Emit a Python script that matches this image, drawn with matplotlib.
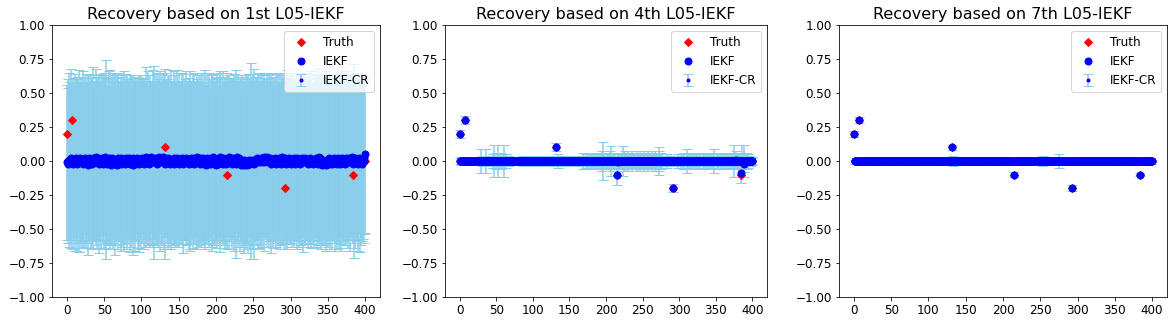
import numpy as np
import matplotlib
matplotlib.use("Agg")
import matplotlib.pyplot as plt
from matplotlib.ticker import MultipleLocator

# positions 0..400
n_pts = 401
titles = ["Recovery based on 1st L05-IEKF",
          "Recovery based on 4th L05-IEKF",
          "Recovery based on 7th L05-IEKF"]

# sparse truth signal
truth_idx = [0, 7, 131, 215, 292, 384]
truth_val = [0.2, 0.3, 0.1, -0.1, -0.2, -0.1]

# 1st IEKF estimate (hundredths) - does not recover the spikes
mean1 = [
    -1, 0, -2, 1, 0, -1, 2, 1, -2, 0, 1, -1, 2, 0, -2, 1, 0, -1, 2, -1,
    0, 1, -2, -1, 2, 0, -1, 1, -3, 0, 2, 1, -1, 0, -2, 2, 1, -1, 0, 3,
    -1, 0, 2, -2, 1, 0, -1, 2, 1, -2, 0, 3, -1, 1, -2, 0, 2, -1, 1, -3,
    0, 2, -1, 1, -2, 0, 1, -3, 2, 0, -1, 1, -2, 2, 0, -1, 1, 0, -2, 2,
    1, -1, 0, 2, -2, 1, 0, -1, 2, -3, 1, 0, -2, 1, 2, -1, 0, -2, 1, 0,
    -1, 2, 0, 1, -2, 1, 3, -1, 0, 2, -2, 1, 0, 3, -1, 2, 0, -1, 1, 2,
    0, -2, 1, 3, -1, 0, 2, 1, -1, 3, 0, 2, -2, 1, 0, -1, 2, 0, -2, 1,
    1, -1, 0, 2, -2, 0, 1, -1, 2, 0, -2, 1, 0, -1, 2, 1, -2, 0, 1, -1,
    2, 0, -1, 1, -2, 0, 2, -1, 1, 0, -2, 2, 1, -1, 0, 3, -1, 0, 2, -2,
    1, 0, -1, 2, -2, 1, 0, -3, 2, -1, 0, 1, -2, 2, 0, -1, 3, -2, 1, 0,
    -3, 1, 0, -2, 2, 3, -1, 0, 1, -2, 2, 0, -1, 1, -2, 0, 2, 3, -1, 0,
    1, -2, 0, 2, -1, 1, 0, -2, 3, 0, -1, 2, -2, 1, -3, 0, -2, -3, 1, -2,
    -1, -3, 0, -2, 1, -1, -2, 0, 1, -1, 0, -2, 1, 0, -1, 2, 0, -1, 1, 0,
    2, -1, 0, 1, 3, -1, 0, 2, 1, 3, -1, 0, 2, 1, -2, 0, 1, -1, 0, 2,
    1, -2, 0, 1, -1, 2, 0, -2, 1, 3, 0, -1, 2, 0, -2, 1, 0, -1, 2, 1,
    -2, 0, 1, -1, 2, 0, -2, 1, 0, 2, -1, 1, 0, -2, 1, 2, 0, -1, 1, 0,
    2, -1, 0, 1, -2, 0, 2, -1, 1, 0, -2, 1, 0, -1, 2, 0, 1, -2, 3, 0,
    2, -1, -3, 0, 1, -2, -1, 0, -3, 1, 0, -2, 2, -1, 0, 1, -2, 0, 2, -1,
    1, 0, -2, 2, -1, 0, 1, -2, 0, 2, -1, 1, 0, -2, 2, 0, 1, -1, 0, 2,
    -1, 0, 3, 1, -2, 0, 2, -1, 0, 1, -2, 0, 2, -1, 0, 1, -2, 1, 0, 2,
    5]

err1 = [
    57, 60, 56, 64, 58, 59, 66, 57, 63, 58, 56, 65, 58, 60, 64, 57, 67, 59, 56, 63,
    58, 65, 57, 62, 56, 64, 59, 57, 66, 58, 62, 56, 64, 57, 63, 67, 58, 56, 59, 65,
    63, 57, 60, 66, 56, 59, 64, 57, 62, 56, 65, 58, 63, 73, 57, 60, 64, 56, 66, 58,
    62, 56, 64, 58, 67, 57, 63, 56, 59, 65, 57, 58, 64, 56, 63, 60, 57, 66, 58, 62,
    56, 64, 60, 57, 65, 58, 63, 56, 59, 66, 57, 58, 64, 60, 56, 63, 57, 65, 58, 60,
    64, 56, 60, 57, 63, 58, 66, 56, 59, 64, 57, 58, 63, 56, 60, 65, 57, 71, 58, 62,
    56, 60, 64, 57, 58, 66, 56, 63, 59, 57, 65, 58, 70, 56, 60, 64, 57, 63, 58, 66,
    56, 59, 57, 64, 58, 63, 56, 60, 65, 57, 58, 64, 56, 60, 63, 57, 66, 58, 59, 56,
    64, 57, 60, 58, 63, 66, 56, 59, 57, 64, 58, 63, 56, 60, 65, 57, 58, 63, 56, 60,
    64, 58, 57, 63, 59, 66, 56, 58, 63, 57, 60, 64, 56, 58, 63, 65, 57, 60, 58, 62,
    56, 60, 64, 57, 58, 63, 66, 56, 59, 57, 64, 58, 63, 56, 60, 65, 57, 58, 64, 56,
    60, 63, 57, 58, 65, 56, 60, 69, 56, 63, 58, 57, 64, 59, 56, 63, 58, 65, 57, 60,
    64, 56, 60, 66, 57, 58, 63, 72, 56, 60, 64, 70, 58, 62, 56, 59, 65, 57, 58, 64,
    56, 60, 63, 57, 58, 65, 56, 59, 64, 57, 58, 63, 56, 60, 66, 57, 58, 63, 56, 60,
    64, 58, 57, 63, 59, 56, 65, 58, 62, 57, 60, 64, 56, 58, 63, 66, 57, 60, 58, 62,
    56, 60, 64, 57, 58, 63, 56, 59, 65, 57, 58, 64, 56, 60, 63, 57, 58, 66, 56, 60,
    63, 57, 58, 64, 56, 60, 62, 57, 65, 58, 59, 56, 64, 57, 58, 63, 60, 56, 65, 58,
    60, 64, 57, 58, 63, 56, 60, 66, 57, 58, 63, 56, 59, 64, 57, 58, 63, 56, 60, 65,
    56, 60, 63, 57, 58, 64, 56, 59, 66, 57, 58, 63, 56, 60, 64, 57, 58, 63, 56, 60,
    65, 56, 60, 57, 58, 71, 56, 63, 59, 57, 64, 58, 56, 66, 60, 63, 57, 58, 60, 56,
    58]

# 4th IEKF: spikes recovered, small offsets elsewhere (hundredths)
offset2_idx = [217, 378, 384, 388]
offset2_val = [-1, 1, 1, -2]
err2 = [
    3, 2, 3, 2, 3, 2, 2, 3, 2, 3, 3, 2, 3, 2, 3, 2, 3, 3, 2, 3,
    2, 3, 3, 2, 3, 2, 3, 3, 2, 9, 3, 2, 4, 3, 2, 3, 9, 3, 2, 3,
    3, 2, 4, 3, 3, 5, 3, 12, 4, 3, 6, 3, 4, 12, 5, 3, 6, 4, 3, 5,
    12, 4, 3, 5, 3, 2, 3, 4, 3, 2, 3, 3, 2, 3, 2, 3, 3, 2, 3, 2,
    3, 2, 3, 3, 2, 3, 4, 3, 2, 3, 4, 3, 3, 4, 3, 2, 4, 3, 3, 4,
    3, 4, 3, 3, 2, 3, 4, 3, 3, 2, 3, 3, 4, 3, 2, 3, 3, 2, 3, 3,
    2, 3, 3, 2, 3, 3, 4, 3, 2, 3, 3, 3, 4, 3, 3, 5, 3, 2, 3, 3,
    3, 4, 3, 3, 2, 3, 3, 4, 3, 3, 3, 2, 3, 4, 3, 3, 2, 3, 3, 4,
    3, 3, 4, 3, 3, 2, 4, 3, 3, 6, 4, 3, 5, 3, 4, 6, 3, 4, 5, 3,
    4, 6, 3, 5, 4, 3, 6, 4, 5, 3, 4, 6, 3, 5, 4, 7, 14, 5, 4, 6,
    4, 5, 3, 6, 4, 5, 7, 11, 4, 5, 6, 4, 5, 3, 4, 8, 5, 6, 4, 5,
    6, 4, 5, 11, 6, 4, 7, 5, 6, 4, 7, 5, 6, 4, 5, 7, 4, 6, 5, 4,
    6, 5, 7, 4, 5, 6, 4, 7, 5, 6, 4, 5, 7, 6, 4, 5, 6, 4, 7, 5,
    4, 6, 5, 7, 5, 4, 6, 7, 5, 6, 4, 5, 7, 10, 5, 6, 4, 5, 3, 4,
    3, 4, 3, 5, 3, 4, 3, 3, 4, 3, 3, 4, 3, 4, 3, 3, 4, 3, 5, 3,
    4, 3, 5, 4, 3, 6, 4, 5, 3, 4, 6, 9, 4, 5, 3, 6, 4, 5, 3, 4,
    5, 4, 6, 3, 5, 4, 3, 6, 4, 5, 3, 4, 5, 3, 6, 4, 3, 5, 4, 6,
    4, 5, 3, 6, 4, 5, 4, 9, 5, 3, 4, 6, 5, 4, 3, 5, 4, 6, 3, 4,
    5, 4, 3, 5, 4, 6, 3, 4, 5, 3, 4, 5, 6, 4, 3, 12, 5, 4, 6, 5,
    4, 6, 5, 4, 7, 5, 12, 4, 6, 12, 5, 4, 6, 3, 5, 4, 3, 4, 3, 2,
    3]

# 7th IEKF: very tight intervals (hundredths)
err3 = [
    2, 1, 2, 1, 2, 1, 1, 2, 1, 2, 1, 1, 2, 1, 2, 1, 1, 2, 1, 2,
    1, 2, 1, 1, 2, 1, 2, 1, 2, 1, 2, 2, 1, 2, 1, 2, 2, 1, 2, 1,
    2, 1, 1, 2, 1, 2, 1, 1, 2, 1, 1, 2, 1, 2, 1, 1, 2, 1, 1, 2,
    1, 1, 2, 1, 1, 2, 1, 1, 2, 1, 1, 1, 2, 1, 1, 2, 1, 1, 2, 1,
    1, 2, 1, 1, 2, 1, 1, 1, 2, 1, 1, 2, 1, 1, 1, 2, 1, 1, 2, 1,
    1, 2, 1, 1, 1, 2, 1, 1, 2, 1, 1, 1, 2, 1, 1, 2, 1, 1, 1, 2,
    1, 1, 2, 1, 1, 2, 1, 1, 2, 1, 1, 2, 1, 4, 2, 3, 2, 1, 2, 1,
    1, 2, 1, 1, 2, 1, 1, 2, 1, 1, 2, 1, 1, 2, 1, 1, 2, 1, 1, 2,
    1, 1, 2, 1, 1, 2, 1, 1, 2, 1, 1, 2, 1, 1, 2, 1, 1, 2, 1, 1,
    2, 1, 1, 2, 1, 1, 2, 1, 1, 2, 1, 1, 2, 1, 1, 2, 1, 1, 2, 1,
    1, 2, 1, 1, 2, 1, 1, 2, 1, 1, 2, 1, 1, 2, 1, 2, 1, 1, 2, 1,
    2, 1, 1, 2, 1, 2, 1, 1, 2, 1, 2, 1, 2, 1, 1, 2, 1, 2, 1, 2,
    1, 2, 1, 2, 1, 2, 1, 2, 1, 2, 1, 2, 1, 4, 2, 1, 2, 1, 2, 1,
    2, 1, 2, 1, 2, 1, 2, 1, 2, 3, 2, 3, 2, 1, 2, 5, 2, 3, 2, 1,
    2, 1, 2, 1, 2, 1, 2, 1, 2, 1, 2, 1, 2, 1, 2, 1, 2, 1, 2, 1,
    2, 1, 2, 1, 2, 1, 2, 1, 2, 1, 2, 1, 2, 1, 2, 1, 2, 1, 2, 1,
    2, 1, 2, 1, 2, 1, 2, 1, 2, 3, 2, 1, 2, 3, 2, 1, 2, 1, 2, 1,
    2, 1, 2, 1, 2, 1, 2, 1, 2, 1, 2, 1, 2, 1, 2, 1, 2, 1, 2, 1,
    1, 2, 1, 2, 1, 2, 1, 2, 1, 2, 1, 2, 1, 2, 1, 2, 1, 2, 1, 2,
    1, 2, 1, 2, 1, 2, 1, 2, 1, 2, 1, 2, 1, 2, 1, 2, 1, 2, 1, 2,
    1]

x = np.arange(n_pts)
truth = np.zeros(n_pts)
truth[truth_idx] = truth_val

est1 = np.array(mean1) / 100.0
est2 = truth.copy()
est2[offset2_idx] += np.array(offset2_val) / 100.0
est3 = truth.copy()
estimates = [est1, est2, est3]
errors = [np.array(err1) / 100.0, np.array(err2) / 100.0, np.array(err3) / 100.0]

W, H = 1174, 324
fig = plt.figure(figsize=(W / 72, H / 72), dpi=72)
# axes boxes in pixels: left, right
boxes = [(52, 380), (445, 767), (839, 1167)]
top, bottom = 25, 297

for k in range(3):
    l, r = boxes[k]
    ax = fig.add_axes([l / W, 1 - bottom / H, (r - l) / W, (bottom - top) / H])
    ax.errorbar(x, estimates[k], yerr=errors[k], fmt='b.', ecolor='skyblue',
                capsize=5, label='IEKF-CR')
    ax.plot(x, truth, 'rD', linestyle='none', markersize=6, label='Truth')
    ax.plot(x, estimates[k], 'bo', linestyle='none', markersize=7, label='IEKF')
    ax.set_ylim(-1, 1)
    ax.xaxis.set_major_locator(MultipleLocator(50))
    ax.set_title(titles[k], fontsize=16)
    ax.tick_params(labelsize=12)
    ax.legend(loc='upper right', fontsize=12)

plt.savefig('out.png', dpi=72)
